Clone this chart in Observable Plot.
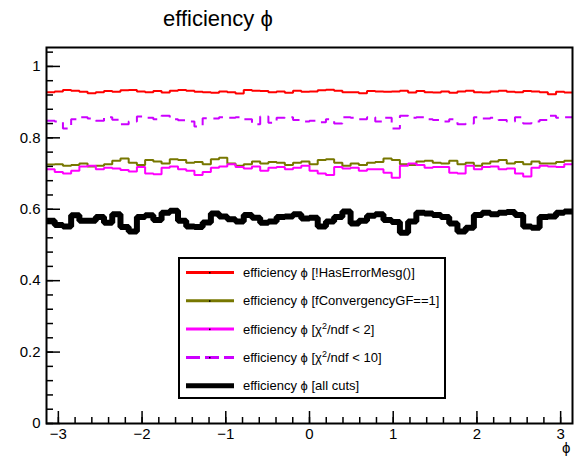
<!DOCTYPE html>
<html>
<head>
<meta charset="utf-8">
<script src="https://cdn.jsdelivr.net/npm/d3@7"></script>
<script src="https://cdn.jsdelivr.net/npm/@observablehq/plot@0.6"></script>
<style>
  html, body { margin: 0; padding: 0; background: #fff; }
  #wrap { position: relative; width: 579px; height: 462px; font-family: "Liberation Sans", Arial, Helvetica, sans-serif; }
  #title { position: absolute; left: 163px; top: 6px; font-size: 22px; color: #000; white-space: nowrap; }
  #xtitle { position: absolute; left: 562px; top: 439px; font-size: 15px; color: #000; }
  #legend { position: absolute; left: 178px; top: 257px; }
</style>
</head>
<body>
<div id="wrap">
  <div id="title">efficiency ϕ</div>
  <div id="xtitle">ϕ</div>
</div>
<script>
// Histogram binning in phi
const nBins = 64;
const phiMin = -Math.PI, phiMax = Math.PI;

// Efficiency per phi bin for each selection
const effNoError = [0.928,0.930,0.934,0.932,0.929,0.925,0.928,0.931,0.929,0.933,0.934,0.930,0.928,0.931,0.927,0.932,
  0.934,0.932,0.929,0.928,0.926,0.930,0.928,0.924,0.934,0.932,0.931,0.928,0.930,0.926,0.932,0.929,
  0.930,0.933,0.935,0.932,0.928,0.928,0.925,0.931,0.930,0.929,0.930,0.932,0.927,0.931,0.928,0.927,
  0.930,0.926,0.930,0.932,0.928,0.927,0.930,0.932,0.929,0.928,0.931,0.930,0.928,0.922,0.929,0.927];

const effConverged = [0.725,0.726,0.722,0.724,0.728,0.720,0.722,0.726,0.736,0.742,0.730,0.724,0.738,0.734,0.728,0.740,
  0.738,0.730,0.732,0.726,0.740,0.744,0.728,0.722,0.726,0.734,0.728,0.732,0.730,0.724,0.730,0.734,
  0.726,0.738,0.740,0.730,0.722,0.728,0.724,0.730,0.732,0.742,0.738,0.726,0.724,0.734,0.736,0.730,
  0.728,0.736,0.726,0.730,0.722,0.728,0.734,0.738,0.728,0.732,0.726,0.734,0.728,0.728,0.732,0.736];

const effChi2lt2 = [0.712,0.704,0.700,0.708,0.720,0.722,0.712,0.716,0.714,0.710,0.706,0.718,0.700,0.698,0.716,0.720,
  0.712,0.708,0.696,0.704,0.716,0.720,0.726,0.718,0.714,0.720,0.708,0.716,0.718,0.712,0.716,0.722,
  0.708,0.700,0.696,0.718,0.714,0.716,0.708,0.712,0.712,0.702,0.688,0.722,0.728,0.724,0.716,0.718,
  0.718,0.702,0.700,0.722,0.712,0.718,0.720,0.712,0.714,0.700,0.692,0.716,0.722,0.720,0.718,0.726];

const effChi2lt10 = [0.848,0.846,0.826,0.852,0.858,0.854,0.848,0.858,0.851,0.838,0.846,0.860,0.856,0.852,0.862,0.852,
  0.849,0.846,0.832,0.855,0.854,0.858,0.856,0.858,0.852,0.838,0.860,0.842,0.856,0.858,0.850,0.846,
  0.848,0.844,0.852,0.840,0.858,0.856,0.852,0.858,0.846,0.856,0.826,0.862,0.856,0.858,0.852,0.850,
  0.846,0.852,0.838,0.840,0.858,0.854,0.856,0.850,0.846,0.858,0.840,0.846,0.850,0.862,0.856,0.858];

const effAllCuts = [0.568,0.556,0.552,0.583,0.568,0.568,0.578,0.562,0.586,0.550,0.538,0.578,0.583,0.570,0.590,0.596,
  0.568,0.552,0.550,0.563,0.588,0.580,0.572,0.566,0.584,0.576,0.562,0.566,0.578,0.580,0.586,0.574,
  0.576,0.552,0.566,0.578,0.594,0.560,0.568,0.582,0.586,0.570,0.564,0.534,0.566,0.590,0.588,0.584,
  0.578,0.560,0.538,0.548,0.584,0.590,0.586,0.590,0.592,0.584,0.552,0.548,0.578,0.580,0.590,0.594];

// Axis ticks
const yMajor = [0, 0.2, 0.4, 0.6, 0.8, 1];
const yMinor = d3.range(0, 1.05, 0.04);
const xMajor = [-3, -2, -1, 0, 1, 2, 3];
const xMinor = d3.range(-3, 3.01, 0.2).map(v => +v.toFixed(1));

// Series styling and legend text
const series = [
  {values: effNoError,   stroke: "#ff0000", width: 2, dash: null,  label: ["efficiency ϕ [!HasErrorMesg()]"]},
  {values: effConverged, stroke: "#777700", width: 2, dash: null,  label: ["efficiency ϕ [fConvergencyGF==1]"]},
  {values: effChi2lt2,   stroke: "#ff00ff", width: 2, dash: null,  label: ["efficiency ϕ [χ", "2", "/ndf < 2]"]},
  {values: effChi2lt10,  stroke: "#cc00ff", width: 2, dash: "11,7", label: ["efficiency ϕ [χ", "2", "/ndf < 10]"]},
  {values: effAllCuts,   stroke: "#000000", width: 6, dash: null,  label: ["efficiency ϕ [all cuts]"]}
];

const binWidth = (phiMax - phiMin) / nBins;
function steps(values) {
  const pts = values.map((v, i) => ({phi: phiMin + i * binWidth, eff: v}));
  pts.push({phi: phiMax, eff: values[values.length - 1]});
  return pts;
}
const fmtX = d => d < 0 ? "\u2212" + (-d) : String(d);
const fmtY = d => (d === 0 || d === 1) ? String(d) : d.toFixed(1);

const chart = Plot.plot({
  width: 579,
  height: 462,
  marginTop: 47,
  marginRight: 7,
  marginBottom: 39,
  marginLeft: 46,
  x: {domain: [phiMin, phiMax]},
  y: {domain: [0, 1.053]},
  style: {fontFamily: "'Liberation Sans', Arial, Helvetica, sans-serif", fontSize: "15px", background: "white", color: "black"},
  marks: [
    ...series.map(s => Plot.line(steps(s.values), {
      x: "phi", y: "eff", curve: "step-after",
      stroke: s.stroke, strokeWidth: s.width, strokeDasharray: s.dash,
      strokeLinejoin: "miter", strokeLinecap: "butt"
    })),
    Plot.axisY(yMinor, {tickSize: -7, tickFormat: () => "", label: null, strokeWidth: 1.5}),
    Plot.axisY(yMajor, {tickSize: -14, tickFormat: () => "", label: null, strokeWidth: 1.5}),
    Plot.axisY(yMajor, {tickSize: 0, tickPadding: 6, tickFormat: fmtY, label: null, fontSize: 15}),
    Plot.axisX(xMinor, {tickSize: -6, tickFormat: () => "", label: null, strokeWidth: 1.5}),
    Plot.axisX(xMajor, {tickSize: -12, tickFormat: () => "", label: null, strokeWidth: 1.5}),
    Plot.axisX(xMajor, {tickSize: 0, tickPadding: 5, tickFormat: fmtX, label: null, fontSize: 15}),
    Plot.frame({stroke: "black", strokeWidth: 2})
  ]
});
document.getElementById("wrap").prepend(chart);

// Legend box
const lw = 268, lh = 142;
const leg = d3.select("#wrap").append("svg")
  .attr("id", "legend").attr("width", lw).attr("height", lh);
leg.append("clipPath").attr("id", "legclip").append("rect")
  .attr("x", 0).attr("y", 0).attr("width", lw - 2).attr("height", lh);
leg.append("rect").attr("x", 1).attr("y", 1).attr("width", lw - 2).attr("height", lh - 2)
  .attr("fill", "white").attr("stroke", "black").attr("stroke-width", 2);
const rows = leg.append("g").attr("clip-path", "url(#legclip)")
  .selectAll("g").data(series).join("g")
  .attr("transform", (d, i) => `translate(0,${15.5 + i * 28.3})`);
rows.append("line").attr("x1", 8).attr("x2", 56).attr("y1", 0).attr("y2", 0)
  .attr("stroke", d => d.stroke).attr("stroke-width", d => d.width === 6 ? 5 : 3)
  .attr("stroke-dasharray", d => d.dash ? "14,5" : null);
rows.filter(d => d.width !== 6).append("rect").attr("x", 31).attr("y", -0.5).attr("width", 1.5).attr("height", 1.5).attr("fill", "black");
const txt = rows.append("text").attr("x", 65).attr("y", 4.5)
  .attr("font-family", "'Liberation Sans', Arial, Helvetica, sans-serif").attr("font-size", 13).attr("fill", "black");
txt.each(function(d) {
  const t = d3.select(this);
  t.append("tspan").text(d.label[0]);
  if (d.label.length > 1) {
    t.append("tspan").attr("dy", -5).attr("font-size", 9).text(d.label[1]);
    t.append("tspan").attr("dy", 5).text(d.label[2]);
  }
});
</script>
</body>
</html>
